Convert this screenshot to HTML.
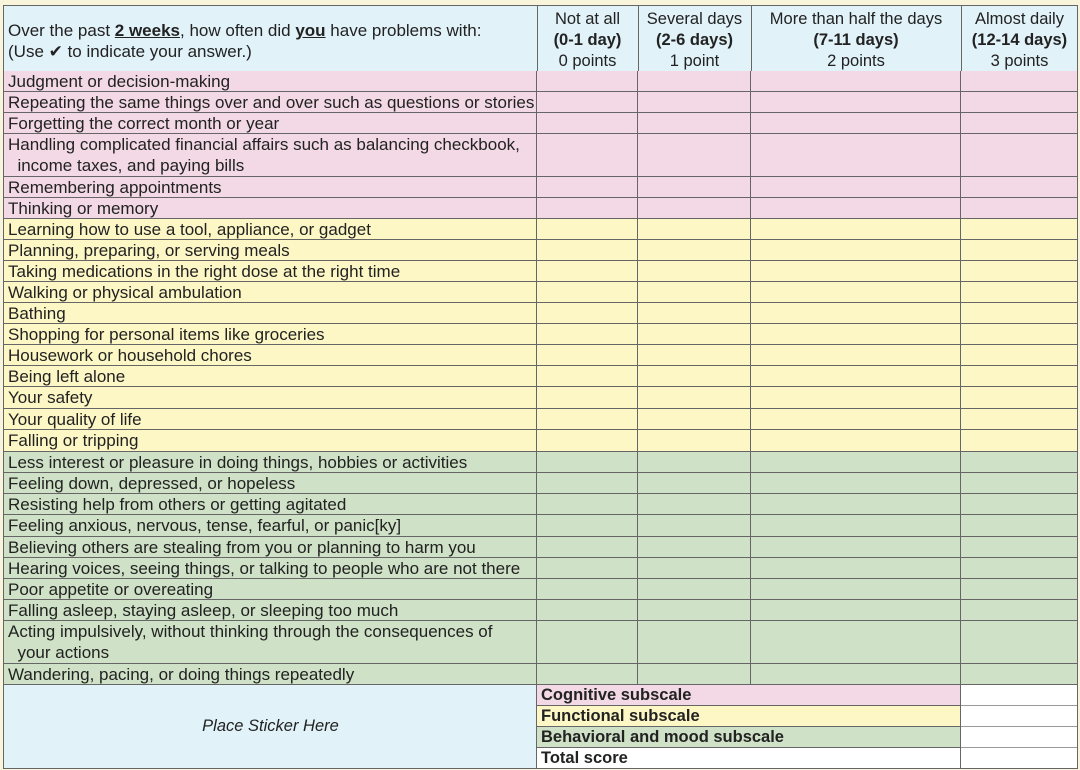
<!DOCTYPE html>
<html><head><meta charset="utf-8"><style>
body{margin:0;width:1080px;height:770px;background:#f9f5dc;font-family:"Liberation Sans",sans-serif;color:#222;position:relative;overflow:hidden}
.r{position:absolute;left:3px;width:1075px;box-sizing:border-box;border-bottom:1px solid #666}
.c{position:absolute;top:0;bottom:0;border-left:1px solid #666;box-sizing:border-box}
.t{position:absolute;left:4px;top:0;font-size:17px;line-height:21px;white-space:nowrap}
.p{background:#f2d9e5}.y{background:#fdf7c6}.g{background:#cfe1c6}
.h{position:absolute;text-align:center;font-size:16.5px;line-height:21px;top:3px}
</style></head><body>
<div style="position:absolute;left:3px;top:5px;width:1075px;height:763px;border:1px solid #666;box-sizing:border-box"></div>
<div class="r" style="top:5px;height:67px;background:#e1f2f9;border-top:1px solid #666;border-left:1px solid #666;border-right:1px solid #666">
<div style="position:absolute;left:4px;top:14px;font-size:17px;line-height:21px">Over the past <b><u>2 weeks</u></b>, how often did <b><u>you</u></b> have problems with:<br>(Use ✔ to indicate your answer.)</div>
<div class="c" style="left:533px"></div><div class="c" style="left:634px"></div><div class="c" style="left:747px"></div><div class="c" style="left:957px"></div>
<div class="h" style="left:533px;width:101px">Not at all<br><b>(0-1 day)</b><br>0 points</div>
<div class="h" style="left:634px;width:113px">Several days<br><b>(2-6 days)</b><br>1 point</div>
<div class="h" style="left:747px;width:210px">More than half the days<br><b>(7-11 days)</b><br>2 points</div>
<div class="h" style="left:957px;width:117px">Almost daily<br><b>(12-14 days)</b><br>3 points</div>
</div>
<div id="rows"></div>
<div style="position:absolute;left:3px;top:685px;width:534px;height:84px;background:#e1f2f9;border-left:1px solid #666;border-bottom:1px solid #666;box-sizing:border-box"><div style="position:absolute;width:100%;top:32px;text-align:center;font-style:italic;font-size:16.5px">Place Sticker Here</div></div>
<div style="position:absolute;left:536px;top:685px;width:425px;height:21px;border-left:1px solid #666;border-bottom:1px solid #666;box-sizing:border-box" class="p"><span class="t" style="font-weight:bold;font-size:16.5px">Cognitive subscale</span></div>
<div style="position:absolute;left:536px;top:706px;width:425px;height:21px;border-left:1px solid #666;border-bottom:1px solid #666;box-sizing:border-box" class="y"><span class="t" style="font-weight:bold;font-size:16.5px">Functional subscale</span></div>
<div style="position:absolute;left:536px;top:727px;width:425px;height:21px;border-left:1px solid #666;border-bottom:1px solid #666;box-sizing:border-box" class="g"><span class="t" style="font-weight:bold;font-size:16.5px">Behavioral and mood subscale</span></div>
<div style="position:absolute;left:536px;top:748px;width:425px;height:21px;border-left:1px solid #666;border-bottom:1px solid #666;box-sizing:border-box;background:#fff"><span class="t" style="font-weight:bold;font-size:16.5px">Total score</span></div>
<div style="position:absolute;left:960px;top:685px;width:118px;height:84px;background:#fff;border-left:1px solid #666;border-right:1px solid #666;border-bottom:1px solid #666;box-sizing:border-box">
<div style="height:21px;border-bottom:1px solid #999;box-sizing:border-box"></div><div style="height:21px;border-bottom:1px solid #999;box-sizing:border-box"></div><div style="height:21px;border-bottom:1px solid #999;box-sizing:border-box"></div></div>
<script>
var R=[["p","Judgment or decision-making",71,92],["p","Repeating the same things over and over such as questions or stories",92,113],["p","Forgetting the correct month or year",113,134],["p","Handling complicated financial affairs such as balancing checkbook,<br>&nbsp;&nbsp;income taxes, and paying bills",134,177],["p","Remembering appointments",177,198],["p","Thinking or memory",198,219],
["y","Learning how to use a tool, appliance, or gadget",219,240],["y","Planning, preparing, or serving meals",240,261],["y","Taking medications in the right dose at the right time",261,282],["y","Walking or physical ambulation",282,303],["y","Bathing",303,324],["y","Shopping for personal items like groceries",324,345],["y","Housework or household chores",345,366],["y","Being left alone",366,387],["y","Your safety",387,409],["y","Your quality of life",409,430],["y","Falling or tripping",430,452],
["g","Less interest or pleasure in doing things, hobbies or activities",452,473],["g","Feeling down, depressed, or hopeless",473,494],["g","Resisting help from others or getting agitated",494,515],["g","Feeling anxious, nervous, tense, fearful, or panic[ky]",515,537],["g","Believing others are stealing from you or planning to harm you",537,558],["g","Hearing voices, seeing things, or talking to people who are not there",558,579],["g","Poor appetite or overeating",579,600],["g","Falling asleep, staying asleep, or sleeping too much",600,621],["g","Acting impulsively, without thinking through the consequences of<br>&nbsp;&nbsp;your actions",621,664],["g","Wandering, pacing, or doing things repeatedly",664,685]];
var h="";R.forEach(function(r){h+='<div class="r '+r[0]+'" style="top:'+r[2]+'px;height:'+(r[3]-r[2])+'px;border-left:1px solid #666;border-right:1px solid #666"><div class="t">'+r[1]+'</div><div class="c" style="left:532px"></div><div class="c" style="left:633px"></div><div class="c" style="left:746px"></div><div class="c" style="left:956px"></div></div>';});
document.getElementById("rows").innerHTML=h;
</script>
</body></html>
